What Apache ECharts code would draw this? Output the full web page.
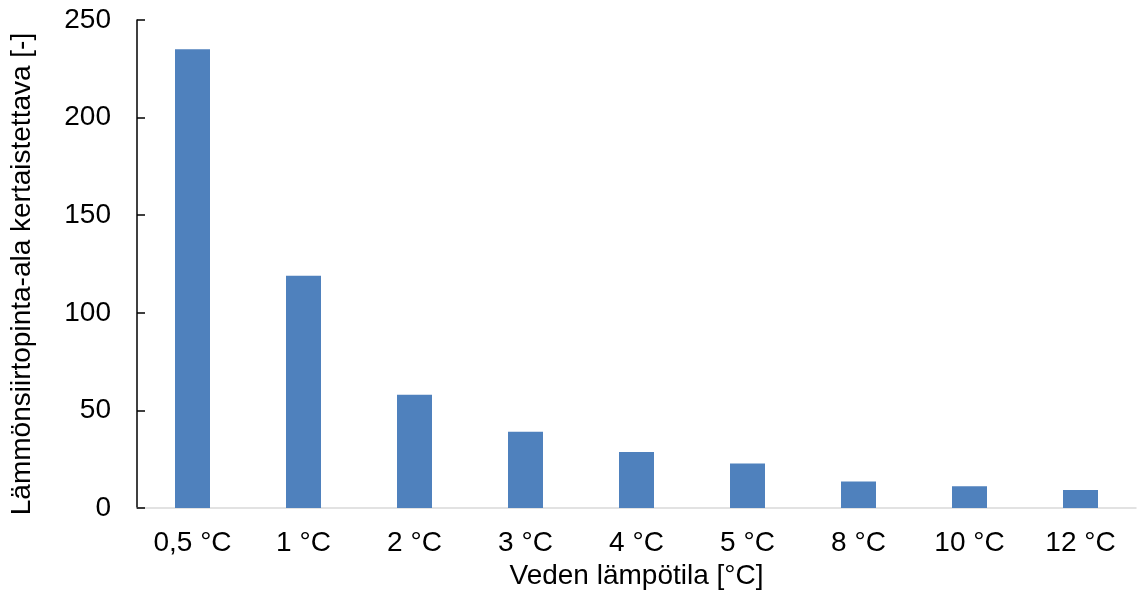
<!DOCTYPE html>
<html>
<head>
<meta charset="utf-8">
<script src="https://cdn.jsdelivr.net/npm/echarts@6/dist/echarts.min.js"></script>
<style>
  html, body { margin: 0; padding: 0; background: #fff; }
  #chart { width: 1137px; height: 595px; }
</style>
</head>
<body>
<div id="chart"></div>
<script>
// Water temperature categories and the relative heat-transfer area multiplier
const categories = ['0,5 °C', '1 °C', '2 °C', '3 °C', '4 °C', '5 °C', '8 °C', '10 °C', '12 °C'];
const areaMultiplier = [235, 119, 58, 39, 28.7, 22.8, 13.6, 11.2, 9.2];
const yTicks = { min: 0, max: 250, interval: 50 };

const xTitle = 'Veden lämpötila [°C]';
const yTitle = 'Lämmönsiirtopinta-ala kertaistettava [-]';

const font = '"Liberation Sans", Arial, sans-serif';
const fontSize = 28;

const chart = echarts.init(document.getElementById('chart'), null, { renderer: 'canvas' });
chart.setOption({
  animation: false,
  backgroundColor: '#ffffff',
  grid: { left: 137, right: 1, top: 20, bottom: 86, containLabel: false },
  xAxis: {
    type: 'category',
    data: categories,
    name: xTitle,
    nameLocation: 'middle',
    nameGap: 54,
    nameTextStyle: { color: '#000', fontSize: fontSize, fontFamily: font },
    axisLine: { show: true, lineStyle: { color: '#d9d9d9', width: 1.5 } },
    axisTick: { show: false },
    axisLabel: { color: '#000', fontSize: fontSize, fontFamily: font, margin: 21, interval: 0 },
    splitLine: { show: false }
  },
  yAxis: {
    type: 'value',
    min: yTicks.min,
    max: yTicks.max,
    interval: yTicks.interval,
    name: yTitle,
    nameLocation: 'middle',
    nameGap: 101,
    nameTextStyle: { color: '#000', fontSize: fontSize, fontFamily: font, padding: [0, 20, 0, 0] },
    axisLine: { show: true, lineStyle: { color: '#000', width: 1.5 } },
    axisTick: { show: true, inside: true, length: 8, lineStyle: { color: '#000', width: 1.5 } },
    axisLabel: { color: '#000', fontSize: fontSize, fontFamily: font, margin: 26 },
    splitLine: { show: false }
  },
  series: [{
    type: 'bar',
    data: areaMultiplier,
    barWidth: 35,
    itemStyle: { color: '#4f81bd' }
  }]
});
</script>
</body>
</html>
